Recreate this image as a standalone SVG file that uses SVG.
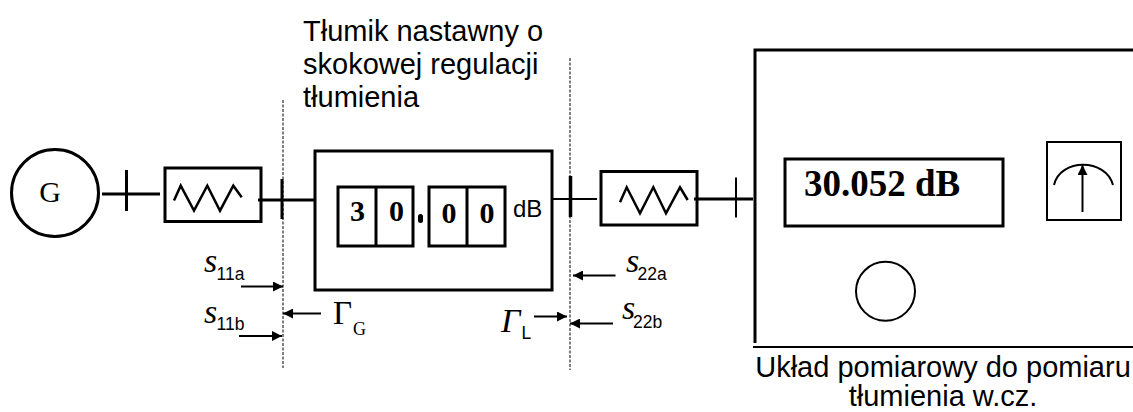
<svg xmlns="http://www.w3.org/2000/svg" width="1133" height="412" viewBox="0 0 1133 412">
<style>
text{fill:#000}
.s{font-family:"Liberation Sans",Arial,sans-serif}
.t{font-family:"Liberation Serif","Times New Roman",serif}
.l{font-size:29px}
.m{font-size:29px}
.d{font-family:"Liberation Serif",serif;font-weight:bold;font-size:30px;text-anchor:middle}
.i{font-family:"Liberation Serif",serif;font-style:italic;font-size:34px}
.sub{font-family:"Liberation Sans",sans-serif;font-size:17.500px}
.b{fill:none;stroke:#000;stroke-width:3}
.n{fill:none;stroke:#000;stroke-width:2}
.w{fill:none;stroke:#000;stroke-width:2.500}
.dash{fill:none;stroke:#000;stroke-width:1;stroke-dasharray:3 1.500}
</style>
<defs>
<marker id="a" markerUnits="userSpaceOnUse" markerWidth="11" markerHeight="10" refX="10" refY="5" orient="auto"><path d="M0 0L10 5L0 10Z" fill="#000"/></marker>
</defs>
<g id="connectors">
<path class="b" d="M102 194H160"/><path class="b" d="M126.500 170V211"/>
<path class="b" d="M258 200H314"/><path class="b" d="M282 179V219"/>
<path class="n" d="M553 199H597"/><path fill="none" stroke="#000" stroke-width="3.500" d="M570.500 176V217"/>
<path class="b" d="M694 199H753"/><path class="n" d="M736 177.500V217.500"/>
<path class="dash" d="M283 100V368"/><path class="dash" d="M570 58V370"/>
<path class="n" d="M241 286.500H283" marker-end="url(#a)"/>
<path class="n" d="M239 336H282" marker-end="url(#a)"/>
<path class="n" d="M321 313.500H283" marker-end="url(#a)"/>
<path class="n" d="M615.500 275.500H573" marker-end="url(#a)"/>
<path class="n" d="M613 323.500H570" marker-end="url(#a)"/>
<path class="n" d="M534 316.500H567" marker-end="url(#a)"/>
</g>
<g id="generator"><circle class="b" cx="55" cy="193" r="43.500"/><text class="t" x="50" y="202" font-size="30" text-anchor="middle">G</text></g>
<g id="filter-1"><rect class="b" x="165" y="168" width="96" height="53.500"/><path class="w" d="M174 200.500L180.700 185.700L194 210.700L207.300 185.700L220 210.700L233.300 185.700L241.700 197.300"/></g>
<g id="filter-2"><rect class="b" x="601" y="171.500" width="96" height="53.500"/><path class="w" d="M620 202.300L626.700 187.300L640 213.300L653.300 187.300L666 213.300L680 187.300L687.700 200"/></g>
<g id="attenuator"><rect class="b" x="315" y="151" width="237" height="139"/>
<rect class="b" x="338" y="187" width="75" height="59"/><path class="b" d="M376 187V246"/>
<rect class="b" x="429" y="187" width="76" height="59"/><path class="b" d="M467 187V246"/>
<text class="d" x="357.500" y="221">3</text><text class="d" x="396.500" y="221">0</text><text class="d" x="449" y="222.500">0</text><text class="d" x="487" y="222.500">0</text>
<rect x="418" y="214" width="5" height="9" rx="2.500" fill="#000"/>
<text class="s" x="513" y="217" font-size="24">dB</text></g>
<g id="attenuator-label"><text class="s l" x="303" y="40.500">Tłumik nastawny o</text><text class="s l" x="303" y="73.500">skokowej regulacji</text><text class="s l" x="303" y="107">tłumienia</text></g>
<g id="meter"><path class="b" d="M1133 50H755V343"/><path class="n" d="M753 347H1133"/>
<rect class="b" x="785" y="159" width="218" height="67"/>
<text class="t" x="804" y="196" font-size="37" font-weight="bold">30.052 dB</text>
<circle class="n" cx="885.500" cy="291.300" r="29.500"/>
<g id="gauge"><rect class="n" x="1047" y="142" width="74" height="78"/><path class="n" d="M1054 185C1060 158 1106 158 1113 185"/><path class="n" d="M1082.500 212V165" marker-end="url(#a)"/></g></g>
<g id="meter-label"><text class="s m" x="943" y="376.500" text-anchor="middle">Układ pomiarowy do pomiaru</text><text class="s m" x="943" y="405.500" text-anchor="middle">tłumienia w.cz.</text></g>
<g id="labels">
<text class="i" x="204" y="272">s</text><text class="sub" x="216.500" y="280">11a</text>
<text class="i" x="204" y="322.500">s</text><text class="sub" x="216.500" y="330">11b</text>
<text class="t" x="333" y="324" font-size="33">Γ</text><text class="t" x="353" y="335" font-size="18">G</text>
<text class="i" x="626" y="272">s</text><text class="sub" x="637.500" y="280">22a</text>
<text class="i" x="622" y="319">s</text><text class="sub" x="633" y="327.500">22b</text>
<text class="i" x="501" y="331.500">Γ</text><text class="sub" x="521.500" y="339">L</text>
</g>
</svg>
